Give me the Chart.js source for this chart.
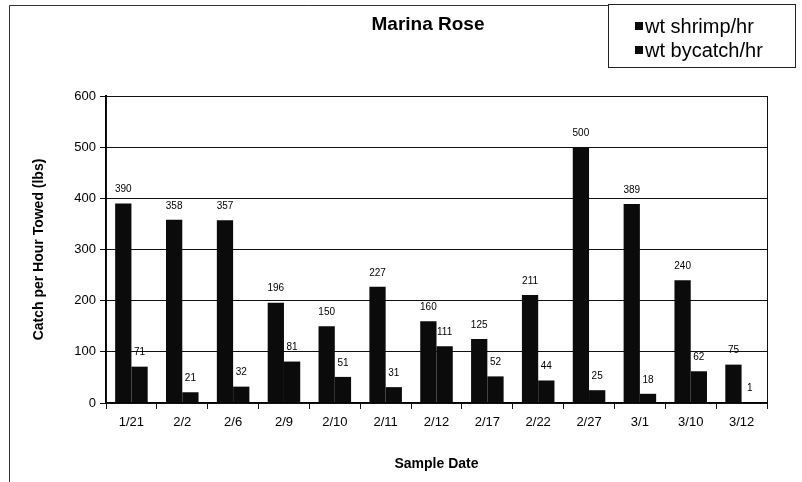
<!DOCTYPE html>
<html>
<head>
<meta charset="utf-8">
<script src="https://cdn.jsdelivr.net/npm/chart.js@4"></script>
<style>
  body { margin: 0; background: #fff; }
  canvas { display: block; }
</style>
</head>
<body>
<canvas id="myChart" width="802" height="482"></canvas>
<script>
const sampleDates = ["1/21", "2/2", "2/6", "2/9", "2/10", "2/11", "2/12", "2/17", "2/22", "2/27", "3/1", "3/10", "3/12"];
const shrimpPerHour = [390, 358, 357, 196, 150, 227, 160, 125, 211, 500, 389, 240, 75];
const bycatchPerHour = [71, 21, 32, 81, 51, 31, 111, 52, 44, 25, 18, 62, 1];
const yTicks = [0, 100, 200, 300, 400, 500, 600];

const FONT = "'Liberation Sans', Arial, sans-serif";

// frame, title, legend box and value labels
const extras = {
    id: "extras",
    afterDatasetsDraw(chart) {
        const c = chart.ctx;
        c.save();
        c.font = "10px " + FONT;
        c.fillStyle = "#000";
        c.textAlign = "center";
        c.textBaseline = "middle";
        chart.data.datasets.forEach((ds, i) => {
            chart.getDatasetMeta(i).data.forEach((bar, j) => {
                c.fillText(ds.data[j], bar.x, bar.y - 14);
            });
        });
        c.restore();
    },
    afterDraw(chart) {
        const c = chart.ctx;
        const a = chart.chartArea;
        c.save();

        // plot border
        c.strokeStyle = "#111";
        c.lineWidth = 1;
        c.strokeRect(a.left + 0.5, a.top + 0.5, a.right - a.left, a.bottom - a.top);

        // outer frame
        c.strokeStyle = "#333";
        c.beginPath();
        c.moveTo(9.5, 482);
        c.lineTo(9.5, 5.5);
        c.lineTo(608, 5.5);
        c.stroke();

        // title
        c.fillStyle = "#000";
        c.font = "bold 19px " + FONT;
        c.textAlign = "center";
        c.textBaseline = "alphabetic";
        c.fillText("Marina Rose", 428, 30);

        // legend
        c.strokeStyle = "#222";
        c.strokeRect(608.5, 4.5, 187, 63);
        c.font = "20px " + FONT;
        c.textAlign = "left";
        const rows = [33, 57];
        chart.data.datasets.forEach((ds, i) => {
            c.fillStyle = ds.backgroundColor;
            c.fillRect(635, rows[i] - 11, 8, 8);
            c.fillStyle = "#000";
            c.fillText(ds.label, 645, rows[i]);
        });
        c.restore();
    }
};

const ctx = document.getElementById("myChart").getContext("2d");

const myChart = new Chart(ctx, {
    type: "bar",
    data: {
        labels: sampleDates,
        datasets: [
            {
                label: "wt shrimp/hr",
                data: shrimpPerHour,
                backgroundColor: "#0b0b0b"
            },
            {
                label: "wt bycatch/hr",
                data: bycatchPerHour,
                backgroundColor: "#0b0b0b"
            }
        ]
    },
    options: {
        responsive: false,
        animation: false,
        datasets: {
            bar: { barPercentage: 1.0, categoryPercentage: 0.64 }
        },
        layout: {
            padding: { top: 96, right: 35, left: 0, bottom: 0 }
        },
        scales: {
            x: {
                afterFit: scale => { scale.height = 79; },
                grid: {
                    drawOnChartArea: false,
                    tickLength: 6,
                    color: "#111"
                },
                border: { color: "#000", width: 2 },
                ticks: {
                    color: "#000",
                    padding: 6,
                    font: { family: FONT, size: 13 }
                },
                title: {
                    display: true,
                    text: "Sample Date",
                    color: "#000",
                    padding: { top: 0, bottom: 9 },
                    font: { family: FONT, size: 14, weight: "bold" }
                }
            },
            y: {
                min: 0,
                max: 600,
                afterFit: scale => { scale.width = 106; },
                afterBuildTicks: scale => {
                    scale.ticks = yTicks.map(v => ({ value: v }));
                },
                grid: {
                    color: "#111",
                    lineWidth: 1,
                    tickLength: 6
                },
                border: { color: "#000", width: 2 },
                ticks: {
                    color: "#000",
                    padding: 4,
                    font: { family: FONT, size: 13 }
                },
                title: {
                    display: true,
                    text: "Catch per Hour Towed (lbs)",
                    color: "#000",
                    padding: { top: 31, bottom: 0 },
                    font: { family: FONT, size: 14, weight: "bold" }
                }
            }
        },
        plugins: {
            legend: { display: false },
            title: { display: false },
            tooltip: { enabled: false }
        }
    },
    plugins: [extras]
});
</script>
</body>
</html>
